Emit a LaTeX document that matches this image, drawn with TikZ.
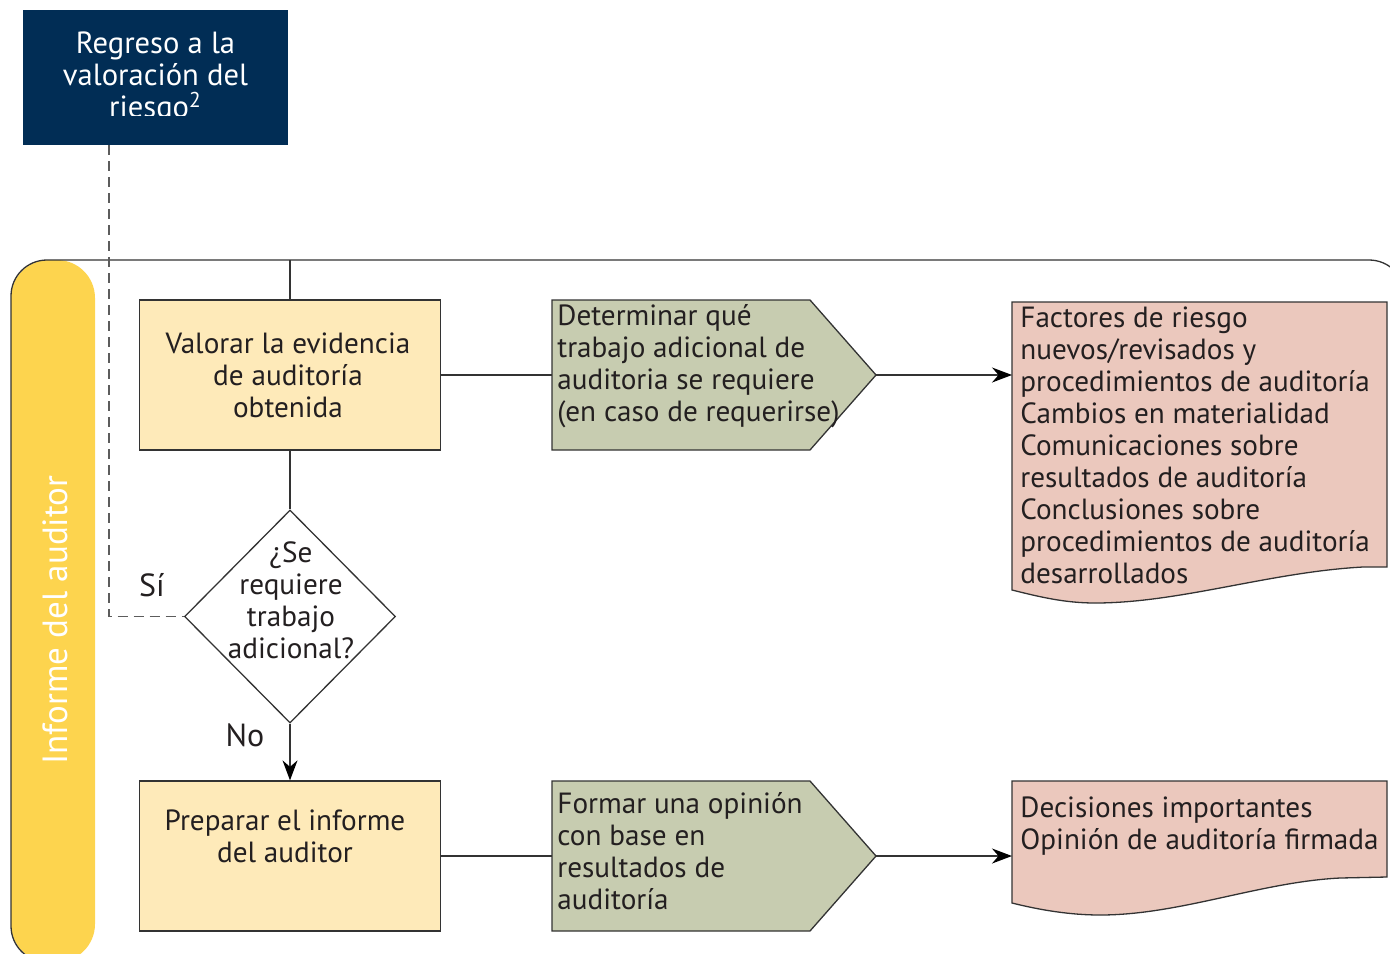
\documentclass[tikz,border=0pt]{standalone}
\usepackage{fontspec}
\setmainfont{PT Sans}
\usetikzlibrary{arrows.meta,shapes.geometric}
\definecolor{navy}{HTML}{012D55}
\definecolor{bandy}{HTML}{FDD44E}
\definecolor{boxy}{HTML}{FEEAB9}
\definecolor{grn}{HTML}{C7CCB0}
\definecolor{pink}{HTML}{EBC8BD}
\definecolor{linec}{HTML}{333333}
\definecolor{txt}{HTML}{231F20}
\tikzset{
  ln/.style={draw=linec, line width=0.65pt},
  arr/.style={-{Stealth[length=10pt,width=7.5pt,color=black]}},
  dsh/.style={draw=linec!80, line width=0.6pt, dash pattern=on 5pt off 3pt},
  procbox/.style={rectangle, ln, fill=boxy, minimum width=150.5pt, minimum height=75pt, inner sep=0pt},
  lbl/.style={text=txt, inner sep=0pt, font=\fontsize{14.6}{16}\selectfont},
  lblc/.style={lbl, align=center},
  lbll/.style={lbl, align=left, anchor=west},
  yesno/.style={text=txt, inner sep=0pt, font=\fontsize{16}{18}\selectfont},
}
\begin{document}
\begin{tikzpicture}[x=0.5pt,y=-0.5pt]
\useasboundingbox (0,0) rectangle (1390,953);

% swimlane
\fill[bandy, rounded corners=19pt] (11,260) rectangle (95,962);
\draw[ln, rounded corners=18pt] (11,260) rectangle (1405,962);
\node[rotate=90, text=white, inner sep=0pt, font=\fontsize{17.5}{20}\selectfont] (lane) at (55,620) {Informe del auditor};

% top navy box
\node[rectangle, fill=navy, minimum width=132.5pt, minimum height=67.5pt, inner sep=0pt] (nv) at (155.5,77.5) {};
\begin{scope}
\clip (23,10) rectangle (288,115);
\node[text=white, inner sep=0pt, align=center, font=\fontsize{15.3}{16}\selectfont] (nvt) at (155.5,78) {Regreso a la\\valoración del\\riesgo\textsuperscript{2}};
\end{scope}

% process boxes
\node[procbox] (b1) at (290,375) {};
\node[lblc] (b1t) at (288,375) {Valorar la evidencia\\de auditoría\\obtenida};
\node[procbox] (b2) at (290,856) {};
\node[lblc] (b2t) at (285,836) {Preparar el informe\\del auditor};

% decision
\node[diamond, ln, fill=white, minimum width=105.5pt, minimum height=106.5pt, inner sep=0pt] (dm) at (290,616.5) {};
\node[lblc] (dmt) at (291,600) {¿Se\\requiere\\trabajo\\adicional?};
\node[yesno] (si) at (152,585) {Sí};
\node[yesno] (no) at (245,735) {No};

% pentagons
\draw[ln, fill=grn] (552,300) -- (810,300) -- (876,375) -- (810,450) -- (552,450) -- cycle;
\coordinate (p1w) at (552,375);
\coordinate (p1e) at (876,375);
\node[lbll] (p1t) at (557,366) {Determinar qué\\trabajo adicional de\\auditoria se requiere\\(en caso de requerirse)};
\draw[ln, fill=grn] (552,781) -- (810,781) -- (876,856) -- (810,931) -- (552,931) -- cycle;
\coordinate (p2w) at (552,856);
\coordinate (p2e) at (876,856);
\node[lbll] (p2t) at (557,851) {Formar una opinión\\con base en\\resultados de\\auditoría};

% documents
\draw[ln, fill=pink] (1012,302) -- (1387,302) -- (1387,567) -- (1363,567)
  .. controls (1270,572) and (1180,603) .. (1095,603)
  .. controls (1065,603) and (1040,597) .. (1012,590) -- cycle;
\coordinate (d1w) at (1012,375);
\node[lbll] (d1t) at (1020,445) {Factores de riesgo\\nuevos/revisados y\\procedimientos de auditoría\\Cambios en materialidad\\Comunicaciones sobre\\resultados de auditoría\\Conclusiones sobre\\procedimientos de auditoría\\desarrollados};
\draw[ln, fill=pink] (1012,781) -- (1387,781) -- (1387,877) -- (1340,878)
  .. controls (1260,882) and (1180,915) .. (1100,915)
  .. controls (1070,915) and (1040,910) .. (1012,903) -- cycle;
\coordinate (d2w) at (1012,856);
\node[lbll] (d2t) at (1020,826) {Decisiones importantes\\Opinión de auditoría firmada};

% connectors
\coordinate (lt) at (290,260);
\coordinate (dtop) at (109,145);
\draw[ln] (lt) -- (b1.north);
\draw[ln] (b1.south) -- (dm.north);
\draw[ln, arr] (dm.south) -- (b2.north);
\draw[ln] (b1.east) -- (p1w);
\draw[ln] (b2.east) -- (p2w);
\draw[ln, arr] (p1e) -- (d1w);
\draw[ln, arr] (p2e) -- (d2w);
\draw[dsh] (dtop) |- (dm.west);
\end{tikzpicture}
\end{document}
